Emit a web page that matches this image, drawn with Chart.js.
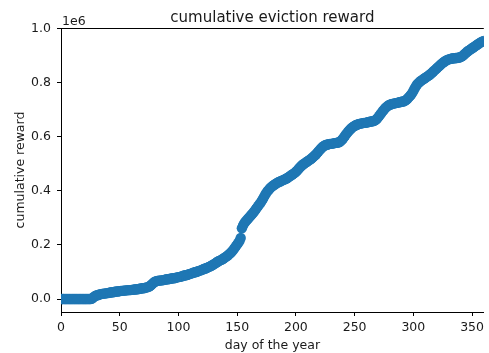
<!DOCTYPE html>
<html>
<head>
<meta charset="utf-8">
<script src="https://cdn.jsdelivr.net/npm/chart.js@4.4.1/dist/chart.umd.min.js"></script>
<style>
  html, body { margin: 0; padding: 0; background: #fff; }
  canvas { display: block; }
</style>
</head>
<body>
<canvas id="c" width="489" height="353"></canvas>
<script>
// Cumulative eviction reward per day of the year, in units of 1e6.
const reward = [
  0.000, 0.000, 0.000, 0.000, 0.000, 0.000, 0.000, 0.000, 0.000, 0.000,
  0.000, 0.000, 0.000, 0.000, 0.000, 0.000, 0.000, 0.000, 0.000, 0.000,
  0.000, 0.000, 0.000, 0.000, 0.000, 0.000, 0.001, 0.004, 0.008, 0.011,
  0.013, 0.014, 0.016, 0.017, 0.018, 0.019, 0.020, 0.020, 0.021, 0.022,
  0.022, 0.023, 0.024, 0.025, 0.025, 0.026, 0.027, 0.028, 0.028, 0.029,
  0.029, 0.030, 0.030, 0.031, 0.031, 0.032, 0.032, 0.033, 0.033, 0.033,
  0.034, 0.034, 0.035, 0.035, 0.036, 0.036, 0.037, 0.038, 0.039, 0.040,
  0.040, 0.041, 0.042, 0.043, 0.044, 0.046, 0.049, 0.053, 0.057, 0.061,
  0.064, 0.066, 0.067, 0.068, 0.068, 0.069, 0.069, 0.070, 0.071, 0.072,
  0.073, 0.073, 0.074, 0.075, 0.076, 0.077, 0.077, 0.078, 0.079, 0.080,
  0.081, 0.082, 0.083, 0.084, 0.086, 0.087, 0.088, 0.089, 0.090, 0.092,
  0.093, 0.095, 0.096, 0.098, 0.099, 0.100, 0.102, 0.103, 0.105, 0.106,
  0.108, 0.110, 0.112, 0.113, 0.115, 0.117, 0.119, 0.121, 0.123, 0.126,
  0.128, 0.131, 0.134, 0.137, 0.140, 0.142, 0.144, 0.146, 0.149, 0.152,
  0.155, 0.158, 0.161, 0.165, 0.169, 0.173, 0.178, 0.184, 0.190, 0.196,
  0.202, 0.208, 0.215, 0.226, 0.262, 0.272, 0.280, 0.286, 0.291, 0.296,
  0.301, 0.306, 0.311, 0.316, 0.321, 0.327, 0.333, 0.339, 0.345, 0.351,
  0.357, 0.364, 0.371, 0.379, 0.387, 0.394, 0.400, 0.405, 0.410, 0.414,
  0.418, 0.421, 0.424, 0.427, 0.430, 0.432, 0.434, 0.436, 0.438, 0.440,
  0.442, 0.444, 0.446, 0.449, 0.452, 0.455, 0.458, 0.461, 0.464, 0.467,
  0.471, 0.475, 0.480, 0.485, 0.490, 0.494, 0.498, 0.501, 0.504, 0.507,
  0.510, 0.513, 0.516, 0.519, 0.523, 0.527, 0.531, 0.535, 0.540, 0.545,
  0.550, 0.555, 0.560, 0.564, 0.567, 0.569, 0.571, 0.572, 0.573, 0.574,
  0.574, 0.575, 0.576, 0.577, 0.578, 0.578, 0.579, 0.581, 0.584, 0.588,
  0.593, 0.599, 0.605, 0.611, 0.617, 0.622, 0.627, 0.631, 0.635, 0.638,
  0.641, 0.643, 0.645, 0.647, 0.648, 0.649, 0.650, 0.651, 0.652, 0.652,
  0.653, 0.654, 0.655, 0.656, 0.657, 0.658, 0.659, 0.660, 0.663, 0.667,
  0.672, 0.678, 0.684, 0.690, 0.696, 0.701, 0.706, 0.710, 0.714, 0.717,
  0.719, 0.721, 0.722, 0.723, 0.724, 0.725, 0.726, 0.727, 0.728, 0.729,
  0.730, 0.731, 0.732, 0.734, 0.737, 0.741, 0.746, 0.751, 0.756, 0.762,
  0.770, 0.778, 0.786, 0.793, 0.798, 0.802, 0.806, 0.809, 0.812, 0.815,
  0.818, 0.821, 0.824, 0.827, 0.830, 0.834, 0.838, 0.842, 0.846, 0.850,
  0.854, 0.858, 0.862, 0.866, 0.870, 0.874, 0.877, 0.880, 0.883, 0.885,
  0.887, 0.888, 0.889, 0.890, 0.891, 0.891, 0.892, 0.892, 0.893, 0.894,
  0.895, 0.897, 0.900, 0.904, 0.908, 0.912, 0.916, 0.919, 0.922, 0.925,
  0.928, 0.931, 0.934, 0.937, 0.940, 0.943, 0.946, 0.949, 0.951, 0.953,
  0.955
];
// Day index of each entry (day 0 is the first one).
const days = reward.map((_, i) => i);

const xTicks = [0, 50, 100, 150, 200, 250, 300, 350];
const yTicks = [0.0, 0.2, 0.4, 0.6, 0.8, 1.0];

const titleText = 'cumulative eviction reward';
const xLabel = 'day of the year';
const yLabel = 'cumulative reward';
const offsetText = '1e6';

const FONT = '"DejaVu Sans", sans-serif';
const TEXT = '#1a1a1a';

// Axes frame, title, axis labels and the 1e6 multiplier.
const decorations = {
  id: 'decorations',
  afterDraw(chart) {
    const { ctx, chartArea: a } = chart;
    ctx.save();
    ctx.strokeStyle = '#000';
    ctx.lineWidth = 1;
    ctx.beginPath();
    ctx.moveTo(a.left, a.top + 0.5);
    ctx.lineTo(a.right, a.top + 0.5);
    ctx.stroke();

    ctx.fillStyle = TEXT;
    const cx = (a.left + a.right) / 2;
    ctx.textAlign = 'center';
    ctx.textBaseline = 'alphabetic';
    ctx.font = '15px ' + FONT;
    ctx.fillText(titleText, cx, 21.5);

    ctx.font = '12.5px ' + FONT;
    ctx.fillText(xLabel, cx, 349);

    ctx.textAlign = 'left';
    ctx.fillText(offsetText, a.left + 1, 25);

    ctx.translate(24, (a.top + a.bottom) / 2);
    ctx.rotate(-Math.PI / 2);
    ctx.textAlign = 'center';
    ctx.fillText(yLabel, 0, 0);
    ctx.restore();
  }
};

new Chart(document.getElementById('c'), {
  type: 'scatter',
  data: {
    datasets: [{
      data: days.map((d, i) => ({ x: d, y: reward[i] })),
      backgroundColor: '#1f77b4',
      borderColor: '#1f77b4',
      borderWidth: 0,
      pointRadius: 5.2,
      pointHoverRadius: 5.2,
      clip: 0
    }]
  },
  options: {
    responsive: false,
    animation: false,
    devicePixelRatio: 1,
    events: [],
    layout: { padding: { top: 28, right: 0, bottom: 0, left: 0 } },
    plugins: { legend: { display: false }, tooltip: { enabled: false }, title: { display: false } },
    scales: {
      x: {
        type: 'linear',
        min: 0,
        max: 360,
        afterBuildTicks(s) { s.ticks = xTicks.map(v => ({ value: v })); },
        afterFit(s) { s.height = 41; s.paddingLeft = 0; s.paddingRight = 0; },
        border: { display: true, color: '#000', width: 1 },
        grid: { drawOnChartArea: false, drawTicks: true, tickLength: 4, color: '#000' },
        ticks: {
          color: TEXT,
          font: { family: FONT, size: 12.5 },
          padding: 4,
          maxRotation: 0,
          callback: v => String(v)
        }
      },
      y: {
        type: 'linear',
        min: -0.048,
        max: 1.003,
        afterBuildTicks(s) { s.ticks = yTicks.map(v => ({ value: v })); },
        afterFit(s) { s.width = 61; s.paddingTop = 0; s.paddingBottom = 0; },
        border: { display: true, color: '#000', width: 1 },
        grid: { drawOnChartArea: false, drawTicks: true, tickLength: 4, color: '#000' },
        ticks: {
          color: TEXT,
          font: { family: FONT, size: 12.5 },
          padding: 6,
          callback: v => v.toFixed(1)
        }
      }
    }
  },
  plugins: [decorations]
});
</script>
</body>
</html>
